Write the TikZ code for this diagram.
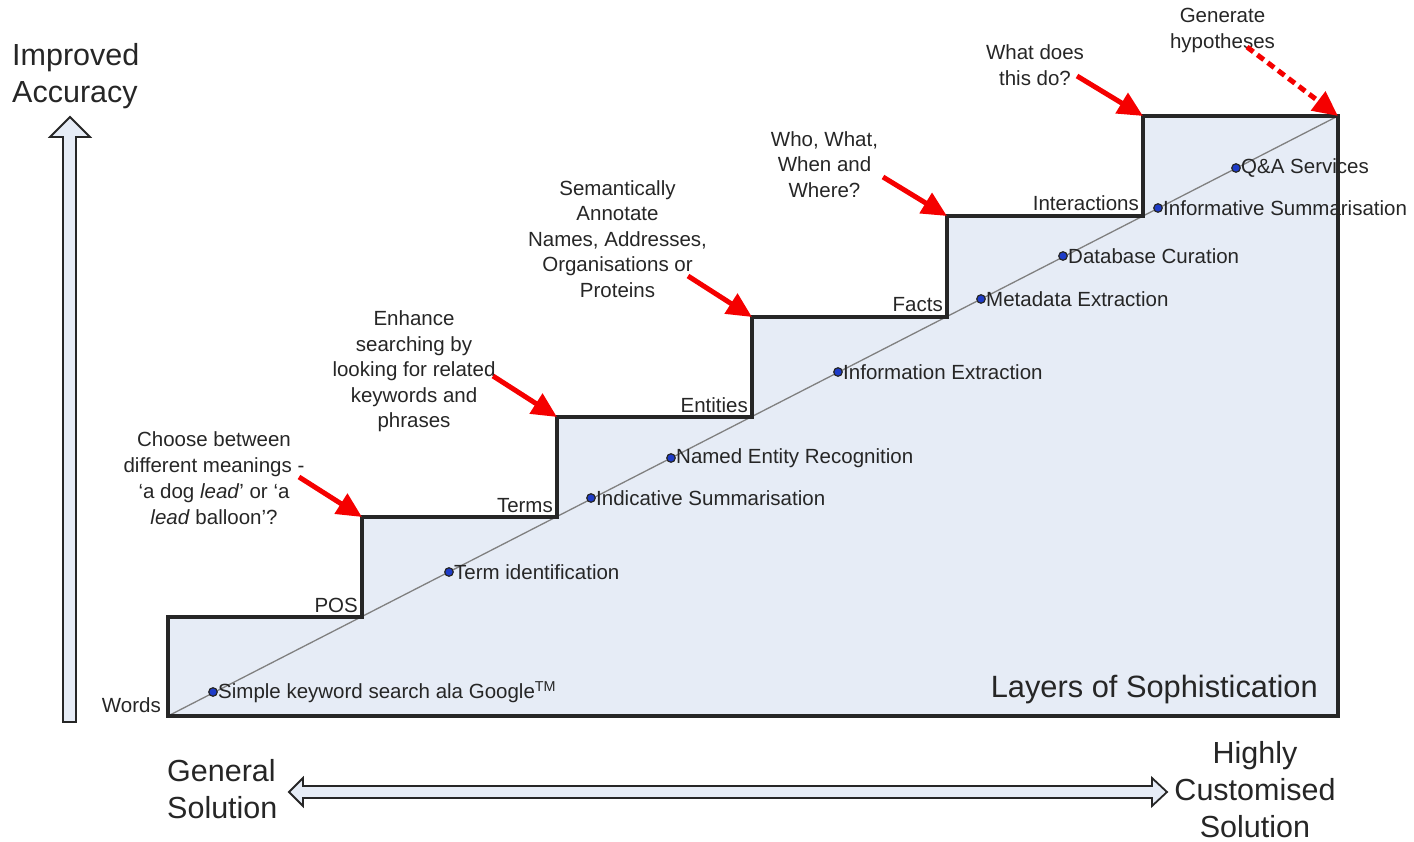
\documentclass[tikz,border=0pt]{standalone}
\usepackage{fontspec}
\setmainfont{Liberation Sans}
\usetikzlibrary{arrows.meta}

\definecolor{stepfill}{RGB}{230,236,246}
\definecolor{ink}{RGB}{38,38,38}
\definecolor{dotblue}{RGB}{30,60,200}
\definecolor{arrowred}{RGB}{245,0,0}

\begin{document}
\begin{tikzpicture}[x=1pt,y=-1pt,
  lbl/.style={font=\fontsize{20.5}{25.5}\selectfont, text=ink, inner sep=0pt, align=center},
  biglbl/.style={font=\fontsize{30.5}{37}\selectfont, text=ink, inner sep=0pt},
  steplbl/.style={font=\fontsize{20.5}{25.5}\selectfont, text=ink, inner sep=0pt, anchor=base east, xshift=-4pt, yshift=5pt},
  itemlbl/.style={font=\fontsize{20.5}{25.5}\selectfont, text=ink, inner sep=0pt, anchor=west, xshift=5pt},
  dot/.style={circle, draw=black!85, fill=dotblue, line width=1.2pt, inner sep=0pt, minimum size=8.5pt},
  callout/.style={draw=arrowred, line width=5pt, -{Triangle[length=25pt,width=23pt]}},
  stair/.style={draw=black!85, line width=3.5pt, line join=miter},
  hollow/.style={draw=black!85, line width=1.8pt, fill=stepfill, line join=miter}
]
\useasboundingbox (0,0) rectangle (1414,842);

% corners of the staircase
\coordinate (w0) at (168,716);
\coordinate (w1) at (168,617);
\coordinate (p0) at (362,617);
\coordinate (p1) at (362,517);
\coordinate (t0) at (557,517);
\coordinate (t1) at (557,417);
\coordinate (e0) at (752,417);
\coordinate (e1) at (752,317);
\coordinate (f0) at (947,317);
\coordinate (f1) at (947,216);
\coordinate (i0) at (1143,216);
\coordinate (i1) at (1143,116);
\coordinate (top) at (1338,116);
\coordinate (br) at (1338,716);

% staircase body and rising diagonal
\fill[stepfill] (w0) -- (w1) -- (p0) -- (p1) -- (t0) -- (t1) -- (e0) -- (e1)
  -- (f0) -- (f1) -- (i0) -- (i1) -- (top) -- (br) -- cycle;
\draw[gray, line width=1.3pt] (w0) -- (top);

% techniques along the diagonal
\node[dot] (d1) at (213,692) {};
\node[itemlbl] at (d1) {Simple keyword search ala Google\textsuperscript{TM}};
\node[dot] (d2) at (449,572) {};
\node[itemlbl] at (d2) {Term identification};
\node[dot] (d3) at (591,498) {};
\node[itemlbl] at (d3) {Indicative Summarisation};
\node[dot] (d4) at (671,458) {};
\node[itemlbl] at (d4) {Named Entity Recognition};
\node[dot] (d5) at (838,372) {};
\node[itemlbl] at (d5) {Information Extraction};
\node[dot] (d6) at (981,299) {};
\node[itemlbl] at (d6) {Metadata Extraction};
\node[dot] (d7) at (1063,256) {};
\node[itemlbl] at (d7) {Database Curation};
\node[dot] (d8) at (1158,208) {};
\node[itemlbl] at (d8) {Informative Summarisation};
\node[dot] (d9) at (1236,168) {};
\node[itemlbl] at (d9) {Q\&A Services};

% staircase outline
\draw[stair] (w0) -- (w1) -- (p0) -- (p1) -- (t0) -- (t1) -- (e0) -- (e1)
  -- (f0) -- (f1) -- (i0) -- (i1) -- (top) -- (br) -- cycle;

% step names
\node[steplbl, xshift=-3pt, yshift=-1pt] (lw) at (w0) {Words};
\node[steplbl] (lp) at (p0) {POS};
\node[steplbl] (lt) at (t0) {Terms};
\node[steplbl] (le) at (e0) {Entities};
\node[steplbl] (lf) at (f0) {Facts};
\node[steplbl] (li) at (i0) {Interactions};

\node[biglbl, anchor=base east] (layers) at (1318,697)
  {\fontsize{30.8}{36}\selectfont Layers of Sophistication};

% questions and their arrows
\node[lbl, font=\fontsize{20.5}{26}\selectfont] (q1) at (214,478.5) {Choose between\\different meanings -\\‘a dog \textit{lead}’ or ‘a\\\textit{lead} balloon’?};
\node[lbl] (q2) at (414,371.5) {Enhance\\searching by\\looking for related\\keywords and\\phrases};
\node[lbl] (q3) at (617.5,239) {Semantically\\Annotate\\Names, Addresses,\\Organisations or\\Proteins};
\node[lbl] (q4) at (824.5,164.5) {Who, What,\\When and\\Where?};
\node[lbl] (q5) at (1035,65) {What does\\this do?};
\node[lbl] (q6) at (1222.5,30.5) {Generate\\hypotheses};

\coordinate (s1) at (299,477);
\coordinate (s2) at (493,376);
\coordinate (s3) at (688,276);
\coordinate (s4) at (883,177);
\coordinate (s5) at (1077,76);
\coordinate (s6) at (1247,47);

\draw[callout] (s1) -- (p1);
\draw[callout] (s2) -- (t1);
\draw[callout] (s3) -- (e1);
\draw[callout] (s4) -- (f1);
\draw[callout] (s5) -- (i1);
\draw[callout, dash pattern=on 8pt off 5pt] (s6) -- (top);

% accuracy axis
\draw[hollow] (63,722) -- (63,137) -- (50,137) -- (70,117) -- (90,137)
  -- (76,137) -- (76,722) -- cycle;
\node[biglbl, align=left, anchor=west] (acc) at (12,76.5) {Improved\\Accuracy};

% generality axis
\draw[hollow] (289,792) -- (303,778) -- (303,786) -- (1152,786) -- (1152,778)
  -- (1167,792) -- (1152,806) -- (1152,798) -- (303,798) -- (303,806) -- cycle;
\node[biglbl, align=left, anchor=west] (gen) at (167,789.5) {General\\Solution};
\node[biglbl, align=center] (cust) at (1255,790) {Highly\\Customised\\Solution};

\end{tikzpicture}
\end{document}
